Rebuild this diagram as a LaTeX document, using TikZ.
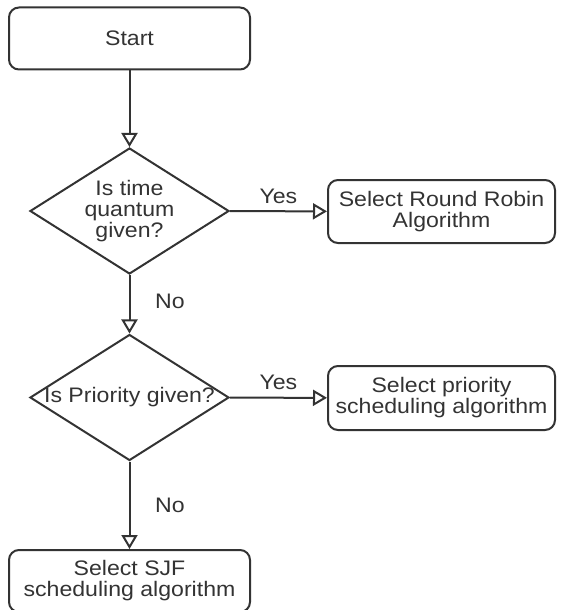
\documentclass[tikz,border=0pt]{standalone}
\usepackage{fontspec}
\setmainfont{Liberation Sans}[FakeStretch=1.1]
\usetikzlibrary{shapes.geometric, arrows.meta, positioning}

\begin{document}
\begin{tikzpicture}[
      x=0.5pt, y=-0.5pt,
      every node/.style={font=\fontsize{10.5}{10.5}\selectfont, text=black!80},
      process/.style={draw=black!80, line width=1pt, rounded corners=5pt, align=center, inner sep=0pt},
      decision/.style={draw=black!80, line width=1pt, diamond, minimum width=99.5pt, minimum height=63pt, inner sep=0pt},
      dtext/.style={align=center, inner sep=0pt},
      flow/.style={draw=black!80, line width=1pt, -{Triangle[open, length=7pt, width=8pt]}}
    ]
  \useasboundingbox (0,0) rectangle (567,610);
  \clip (0,0) rectangle (567,610);
  % boxes and decisions
  \node[process, minimum width=120.5pt, minimum height=31pt] (start) at (129.5,38.5) {Start};
  \node[decision, label={[dtext]center:Is time\\quantum\\given?}] (timeq) at (129.5,211) {};
  \node[process, minimum width=113.5pt, minimum height=31.5pt] (rrobin) at (441.5,211.5) {Select Round Robin\\Algorithm};
  \node[decision, label={[dtext]center:Is Priority given?}] (prio) at (129.5,397.5) {};
  \node[process, minimum width=113.5pt, minimum height=32pt] (priosel) at (441.5,398) {Select priority\\scheduling algorithm};
  \node[process, minimum width=120.5pt, minimum height=31pt] (sjf) at (129.5,581) {Select SJF\\scheduling algorithm};
  % connectors
  \draw[flow] (start) -- (timeq);
  \draw[flow] (timeq) -- node[above] {Yes} (rrobin);
  \draw[flow] (timeq) -- node[right=9pt, pos=0.45] {No} (prio);
  \draw[flow] (prio) -- node[above] {Yes} (priosel);
  \draw[flow] (prio) -- node[right=9pt] {No} (sjf);
\end{tikzpicture}
\end{document}
